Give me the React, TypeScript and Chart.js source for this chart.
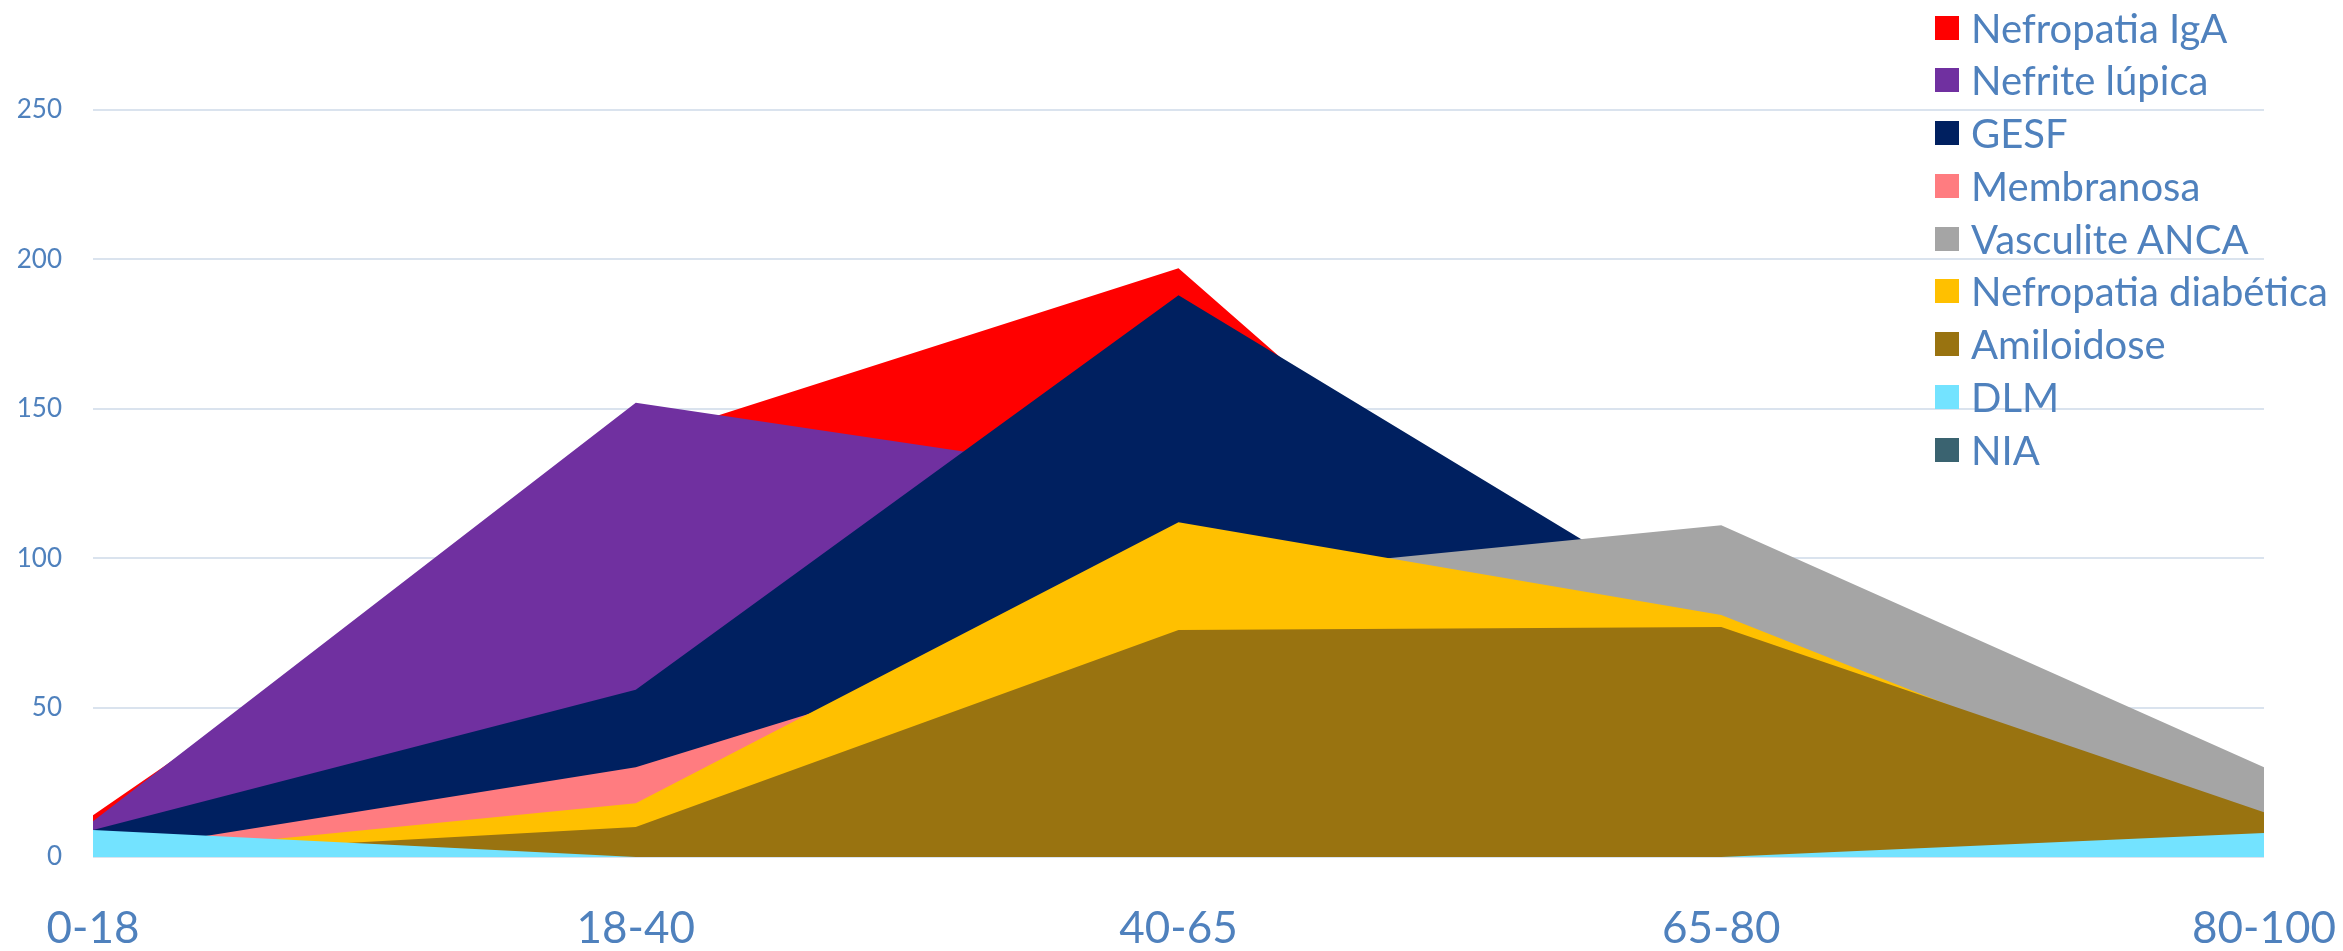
import React, { useEffect, useRef } from "react";
import { Chart, registerables } from "chart.js";

Chart.register(...registerables);

const categories = ["0-18", "18-40", "40-65", "65-80", "80-100"];

const seriesNames = [
  "Nefropatia IgA",
  "Nefrite lúpica",
  "GESF",
  "Membranosa",
  "Vasculite ANCA",
  "Nefropatia diabética",
  "Amiloidose",
  "DLM",
  "NIA",
];

const nefropatiaIgA = [14, 139, 197, 38, 5];
const nefriteLupica = [12, 152, 125, 20, 3];
const gesf = [9, 56, 188, 78, 10];
const membranosa = [1, 30, 86, 40, 5];
const vasculiteAnca = [0, 3, 93, 111, 30];
const nefropatiaDiabetica = [0, 18, 112, 81, 9];
const amiloidose = [0, 10, 76, 77, 15];
const dlm = [9, 0, 0, 0, 8];
const nia = [0, 0, 0, 0, 0];

const seriesValues = [
  nefropatiaIgA,
  nefriteLupica,
  gesf,
  membranosa,
  vasculiteAnca,
  nefropatiaDiabetica,
  amiloidose,
  dlm,
  nia,
];

const seriesColors = [
  "#FF0000",
  "#7030A0",
  "#002060",
  "#FF7C80",
  "#A5A5A5",
  "#FFC000",
  "#997310",
  "#73E3FF",
  "#3A6370",
];

const yTicks = [0, 50, 100, 150, 200, 250];

const TEXT_COLOR = "#4F81BD";
const GRID_COLOR = "#DAE3EE";
const FONT = "Lato, 'Open Sans', sans-serif";

export default function App() {
  const canvasRef = useRef<HTMLCanvasElement | null>(null);

  useEffect(() => {
    document.body.style.margin = "0";
    const canvas = canvasRef.current;
    if (!canvas) return;
    const chart = new Chart(canvas, {
      type: "line",
      data: {
        labels: categories,
        datasets: seriesNames.map((name, i) => ({
          label: name,
          data: seriesValues[i],
          backgroundColor: seriesColors[i],
          borderColor: "rgba(0,0,0,0)",
          borderWidth: 0,
          pointRadius: 0,
          pointHoverRadius: 0,
          fill: "origin",
          tension: 0,
          order: seriesNames.length - i,
        })),
      },
      options: {
        animation: false,
        responsive: true,
        maintainAspectRatio: false,
        layout: { padding: { left: 0, right: 79, top: 110, bottom: 0 } },
        plugins: {
          legend: { display: false },
          tooltip: { enabled: false },
        },
        scales: {
          x: {
            offset: false,
            grid: { display: false, drawTicks: false },
            border: { display: false },
            ticks: {
              color: TEXT_COLOR,
              font: { family: FONT, size: 44, lineHeight: 1 },
              padding: 50,
              maxRotation: 0,
              autoSkip: false,
            },
            afterFit: (scale: any) => {
              scale.height = 94;
              scale.paddingLeft = 0;
              scale.paddingRight = 0;
            },
          },
          y: {
            min: 0,
            max: 250,
            grid: { color: GRID_COLOR, lineWidth: 2, drawTicks: false },
            border: { display: false },
            ticks: {
              stepSize: 50,
              color: TEXT_COLOR,
              font: { family: FONT, size: 26 },
              padding: 31,
            },
            afterBuildTicks: (axis: any) => {
              axis.ticks = yTicks.map((v) => ({ value: v }));
            },
            afterFit: (scale: any) => {
              scale.width = 93;
            },
          },
        },
      },
    });
    return () => chart.destroy();
  }, []);

  return (
    <div style={{ position: "relative", width: 2343, height: 951, overflow: "hidden", background: "#fff" }}>
      <canvas ref={canvasRef} />
      <div style={{ position: "absolute", left: 1935, top: 1.3 }}>
        {seriesNames.map((name, i) => (
          <div
            key={name}
            style={{
              display: "flex",
              alignItems: "center",
              height: 52.75,
              whiteSpace: "nowrap",
            }}
          >
            <span
              style={{
                display: "inline-block",
                width: 24,
                height: 24,
                background: seriesColors[i],
                marginRight: 12,
                flex: "0 0 auto",
              }}
            />
            <span style={{ fontFamily: FONT, fontSize: 40, color: TEXT_COLOR, lineHeight: 1.2 }}>{name}</span>
          </div>
        ))}
      </div>
    </div>
  );
}
